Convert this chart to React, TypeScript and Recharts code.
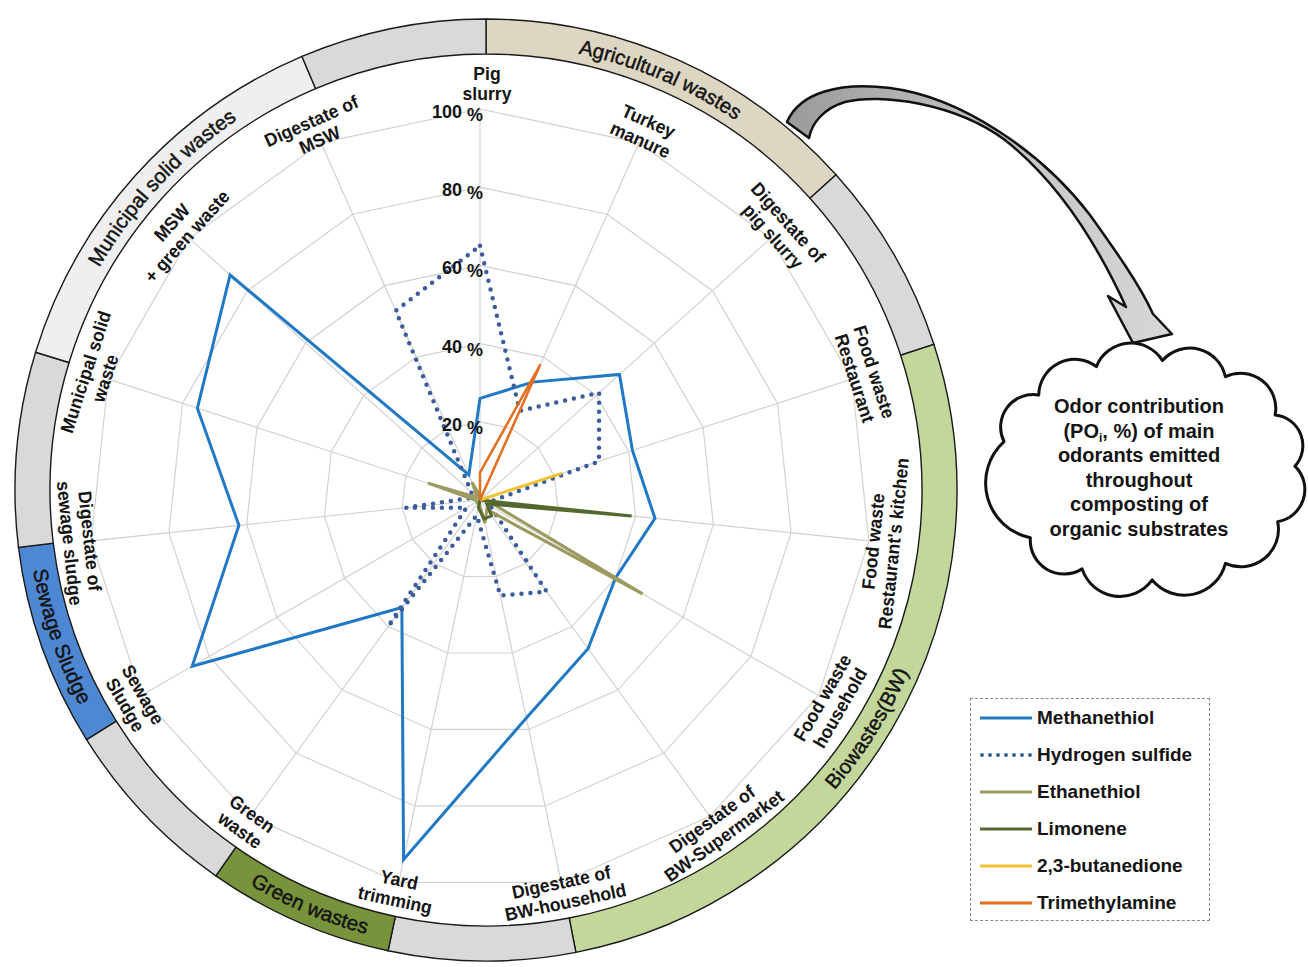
import React from 'react';
import { RadarChart, Radar, PolarGrid, PolarAngleAxis, PolarRadiusAxis, Legend } from 'recharts';

// substrates, clockwise from the top
const categories = [
  'Pig\nslurry',
  'Turkey\nmanure',
  'Digestate of\npig slurry',
  'Food waste\nRestaurant',
  "Food waste\nRestaurant's kitchen",
  'Food waste\nhousehold',
  'Digestate of\nBW-Supermarket',
  'Digestate of\nBW-household',
  'Yard\ntrimming',
  'Green\nwaste',
  'Sewage\nSludge',
  'Digestate of\nsewage sludge',
  'Municipal solid\nwaste',
  'MSW\n+ green waste',
  'Digestate of\nMSW',
];

// odor contribution POi (%)
const methanethiol = [26, 33, 48, 41, 45, 40, 47, 57, 94, 34, 85, 62, 76, 86, 7];
const hydrogenSulfide = [65, 25, 41, 32, 3, 3, 29, 25, 4, 40, 4, 19, 2, 3, 53];
const ethanethiol = [1, 0, 0, 0, 2, 48, 3, 6, 1, 1, 1, 1, 14, 1, 5];
const limonene = [0, 0, 0, 0, 39, 2, 5, 5, 2, 0, 0, 0, 0, 0, 0];
const butanedione = [0, 0, 0, 22, 0, 0, 0, 0, 0, 0, 0, 0, 0, 0, 0];
const trimethylamine = [7, 38, 0, 0, 0, 0, 0, 0, 0, 0, 0, 0, 0, 0, 0];

const radiusTicks = [0, 20, 40, 60, 80, 100];

const series = [
  { key: 'methanethiol', name: 'Methanethiol', values: methanethiol, color: '#2178c4', width: 3 },
  { key: 'h2s', name: 'Hydrogen sulfide', values: hydrogenSulfide, color: '#3c5d9c', width: 4.5, dash: '0 9' },
  { key: 'ethanethiol', name: 'Ethanethiol', values: ethanethiol, color: '#9c9a5e', width: 3 },
  { key: 'limonene', name: 'Limonene', values: limonene, color: '#55692f', width: 3 },
  { key: 'butanedione', name: '2,3-butanedione', values: butanedione, color: '#f1c232', width: 3 },
  { key: 'tma', name: 'Trimethylamine', values: trimethylamine, color: '#e46f1f', width: 2.5 },
];

const data = categories.map((category, i) => {
  const row: any = { category };
  series.forEach((s) => (row[s.key] = s.values[i]));
  return row;
});

const W = 1308;
const H = 967;
const CX = 480;
const CY = 500;
const R = 391;
const LABEL_R = 405;
const FONT = "'Liberation Sans', Arial, Helvetica, sans-serif";

// outer category ring (its centre is a little off the radar centre)
const RCX = 486;
const RCY = 490;
const RO = 471;
const RI = 436;

const ringSegments = [
  { a0: 0, a1: 48, fill: '#ddd6c2' },
  { a0: 48, a1: 72, fill: '#d9d9d9' },
  { a0: 72, a1: 169, fill: '#c4d79b' },
  { a0: 169, a1: 192, fill: '#d9d9d9' },
  { a0: 192, a1: 215, fill: '#77933c' },
  { a0: 215, a1: 238, fill: '#d9d9d9' },
  { a0: 238, a1: 263, fill: '#4f88d2' },
  { a0: 263, a1: 287, fill: '#d9d9d9' },
  { a0: 287, a1: 337, fill: '#efefef' },
  { a0: 337, a1: 360, fill: '#d9d9d9' },
];

const ringLabels = [
  { text: 'Agricultural wastes', mid: 23, cw: true },
  { text: 'Biowastes(BW)', mid: 122, cw: false },
  { text: 'Green wastes', mid: 203, cw: false },
  { text: 'Sewage Sludge', mid: 251, cw: false },
  { text: 'Municipal solid wastes', mid: 313, cw: true },
];

const cloudLines = ['Odor contribution', '(PO|i|, %) of main', 'odorants emitted', 'throughout', 'composting of', 'organic substrates'];

const pt = (r: number, deg: number) => {
  const a = (deg * Math.PI) / 180;
  return [RCX + r * Math.sin(a), RCY - r * Math.cos(a)];
};

const arc = (r: number, a0: number, a1: number, cw: boolean) => {
  const [x0, y0] = pt(r, cw ? a0 : a1);
  const [x1, y1] = pt(r, cw ? a1 : a0);
  const large = Math.abs(a1 - a0) > 180 ? 1 : 0;
  return `M${x0},${y0} A${r},${r} 0 ${large} ${cw ? 1 : 0} ${x1},${y1}`;
};

const wedge = (a0: number, a1: number) => {
  const [ox0, oy0] = pt(RO, a0);
  const [ox1, oy1] = pt(RO, a1);
  const [ix0, iy0] = pt(RI, a0);
  const [ix1, iy1] = pt(RI, a1);
  const large = a1 - a0 > 180 ? 1 : 0;
  return `M${ox0},${oy0} A${RO},${RO} 0 ${large} 1 ${ox1},${oy1} L${ix1},${iy1} A${RI},${RI} 0 ${large} 0 ${ix0},${iy0} Z`;
};

// distance from the radar centre to the inner ring edge along a direction
const ringGap = (th: number) => {
  const ux = Math.sin(th);
  const uy = -Math.cos(th);
  const ox = CX - RCX;
  const oy = CY - RCY;
  const b = ox * ux + oy * uy;
  return -b + Math.sqrt(b * b - (ox * ox + oy * oy) + RI * RI);
};

const cloudPath = () => {
  const cx = 1147, cy = 470, rx = 148, ry = 110;
  const angles = [-165, -137, -110, -84, -58, -30, -2, 28, 58, 88, 116, 142];
  const p = angles.map((d) => {
    const a = (d * Math.PI) / 180;
    return [cx + rx * Math.cos(a), cy + ry * Math.sin(a)];
  });
  let d = `M${p[0][0]},${p[0][1]}`;
  for (let i = 0; i < p.length; i++) {
    const q = p[(i + 1) % p.length];
    const chord = Math.hypot(q[0] - p[i][0], q[1] - p[i][1]);
    const r = chord * 0.56;
    d += ` A${r},${r} 0 0 1 ${q[0]},${q[1]}`;
  }
  return d + ' Z';
};

const arrowPath =
  'M787,122 C800,92 840,82 890,88 C960,97 1040,150 1090,215 C1115,250 1140,285 1153,314 ' +
  'L1172,334 L1133,343 L1108,296 L1126,307 C1100,250 1062,185 1005,140 C955,103 880,93 845,102 ' +
  'C825,108 812,122 809,138 Z';

const AngleTick = (props: any) => {
  const { x, y, payload } = props;
  const th = Math.atan2(x - CX, CY - y);
  let deg = (th * 180) / Math.PI;
  if (deg < 0) deg += 360;
  const top = Math.cos(th) > 0.99;
  // keep labels clear of the ring; the top label sits above the 100 % tick
  const lr = top ? LABEL_R + 12 : Math.min(LABEL_R, ringGap(th) - 27);
  const px = CX + lr * Math.sin(th) + (top ? 7 : 0);
  const py = CY - lr * Math.cos(th);
  const rot = deg <= 90 ? deg : deg < 270 ? deg - 180 : deg - 360;
  const lines = String(payload.value).split('\n');
  return (
    <text
      transform={`translate(${px},${py}) rotate(${rot}) scale(0.95,1)`}
      textAnchor="middle"
      fontSize={18.5}
      fontWeight={700}
      fontFamily={FONT}
      fill="#141414"
    >
      {lines.map((l, i) => (
        <tspan key={i} x={0} y={(i - (lines.length - 1) / 2) * 20.5 + 7}>
          {l}
        </tspan>
      ))}
    </text>
  );
};

const RadiusTick = (props: any) => {
  const { x, y, payload } = props;
  if (payload.value === 0) return null;
  return (
    <text
      x={x + 3}
      y={y + 9}
      textAnchor="end"
      fontSize={18}
      fontWeight={700}
      fontFamily={FONT}
      fill="#141414"
    >
      {payload.value}
      <tspan dx={5} dy={3}>%</tspan>
    </text>
  );
};

const LegendBox = () => (
  <div
    style={{
      width: 240,
      height: 223,
      border: '1.5px dashed #8a8a8a',
      boxSizing: 'border-box',
      background: '#fff',
      fontFamily: FONT,
    }}
  >
    {series.map((s) => (
      <div key={s.key} style={{ display: 'flex', alignItems: 'center', height: 37 }}>
        <svg width={66} height={10} style={{ flex: 'none' }}>
          <line
            x1={s.dash ? 11 : 9}
            x2={61}
            y1={5}
            y2={5}
            stroke={s.color}
            strokeWidth={s.dash ? 4 : 3}
            strokeDasharray={s.dash ? '0 8' : undefined}
            strokeLinecap={s.dash ? 'round' : 'butt'}
          />
        </svg>
        <span style={{ fontSize: 19, fontWeight: 700, color: '#141414', whiteSpace: 'nowrap' }}>{s.name}</span>
      </div>
    ))}
  </div>
);

const Decor = () => (
  <svg width={W} height={H} style={{ position: 'absolute', left: 0, top: 0 }}>
    <defs>
      <linearGradient id="arrowFill" x1="0" y1="0" x2="1" y2="0">
        <stop offset="0%" stopColor="#9a9a9a" />
        <stop offset="45%" stopColor="#bdbdbd" />
        <stop offset="100%" stopColor="#d8d8d8" />
      </linearGradient>
      {ringLabels.map((l, i) => (
        <path key={i} id={`ringText${i}`} d={arc(l.cw ? 446 : 460, l.mid - 45, l.mid + 45, l.cw)} fill="none" />
      ))}
    </defs>
    {ringSegments.map((s, i) => (
      <path key={i} d={wedge(s.a0, s.a1)} fill={s.fill} stroke="#1a1a1a" strokeWidth={1.4} />
    ))}
    {ringLabels.map((l, i) => (
      <text key={i} fontSize={20.5} fontFamily={FONT} fill="#141414" stroke="#141414" strokeWidth={0.45}>
        <textPath href={`#ringText${i}`} startOffset="50%" textAnchor="middle">
          {l.text}
        </textPath>
      </text>
    ))}
    <path d={arrowPath} fill="url(#arrowFill)" stroke="#111" strokeWidth={2.5} strokeLinejoin="round" />
    <path d={cloudPath()} fill="#fff" stroke="#111" strokeWidth={3} strokeLinejoin="round" />
    <text textAnchor="middle" fontSize={20} fontWeight={700} fontFamily={FONT} fill="#141414">
      {cloudLines.map((line, i) => {
        const parts = line.split('|');
        return (
          <tspan key={i} x={1139} y={413 + i * 24.5}>
            {parts[0]}
            {parts.length > 1 && (
              <>
                <tspan fontSize={12} dy={4}>{parts[1]}</tspan>
                <tspan dy={-4}>{parts[2]}</tspan>
              </>
            )}
          </tspan>
        );
      })}
    </text>
  </svg>
);

export default function App() {
  return (
    <div style={{ position: 'absolute', left: 0, top: 0, width: W, height: H, background: '#fff', overflow: 'hidden' }}>
      <Decor />
      <div style={{ position: 'absolute', left: 0, top: 0 }}>
        <RadarChart
          width={W}
          height={H}
          data={data}
          cx={CX}
          cy={CY}
          outerRadius={R}
          margin={{ top: 0, right: 0, bottom: 0, left: 0 }}
        >
          <PolarGrid gridType="polygon" stroke="#d2d2d2" strokeWidth={1.2} />
          <PolarAngleAxis dataKey="category" tick={AngleTick} tickLine={false} axisLine={false} />
          <PolarRadiusAxis
            angle={90}
            domain={[0, 100]}
            ticks={radiusTicks}
            tick={RadiusTick}
            tickLine={false}
            axisLine={false}
          />
          {series.map((s) => (
            <Radar
              key={s.key}
              name={s.name}
              dataKey={s.key}
              stroke={s.color}
              strokeWidth={s.width}
              strokeDasharray={s.dash}
              strokeLinecap={s.dash ? 'round' : 'butt'}
              strokeLinejoin="miter"
              fill="none"
              fillOpacity={0}
              dot={false}
              isAnimationActive={false}
            />
          ))}
          <Legend
            layout="vertical"
            align="right"
            verticalAlign="top"
            content={() => <LegendBox />}
            wrapperStyle={{ position: 'absolute', left: 970, top: 698, width: 240, height: 223 }}
          />
        </RadarChart>
      </div>
    </div>
  );
}
